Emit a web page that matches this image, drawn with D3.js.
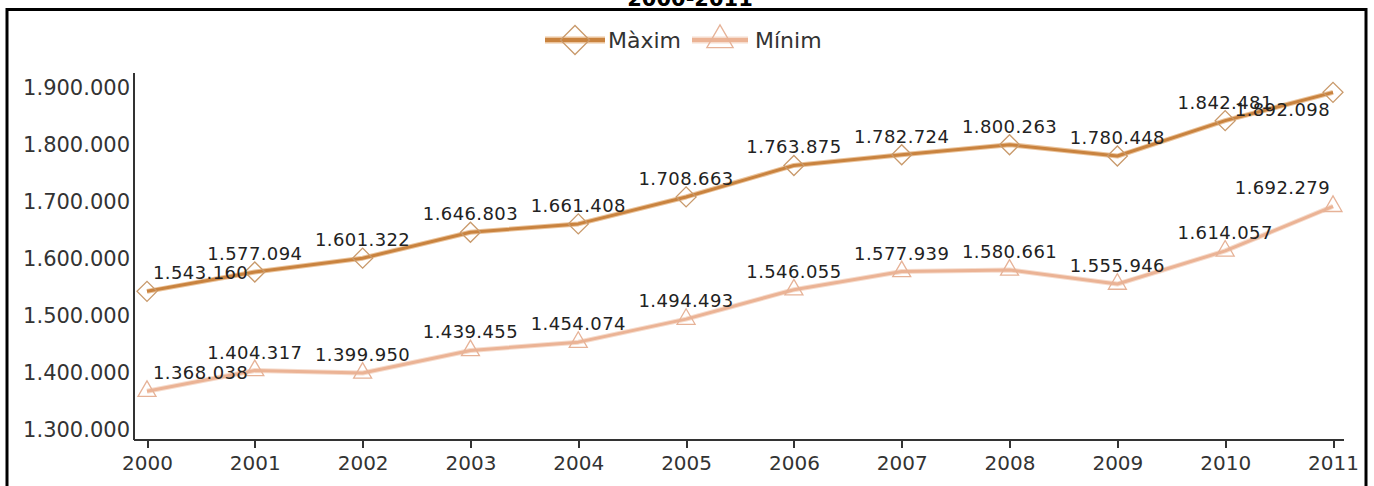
<!DOCTYPE html>
<html lang="ca">
<head>
<meta charset="UTF-8">
<title>2000-2011</title>
<style>
    body{ margin:0; background:#fff; }
    .axis path,.axis line{ fill:none; stroke:#333; stroke-width:2; shape-rendering:crispEdges; }
    .axis text{ font-family:"DejaVu Sans",sans-serif; font-size:21px; fill:#333; }
    .valor{ font-family:"DejaVu Sans",sans-serif; font-size:18px; fill:#222; letter-spacing:0.4px; }
    .llegenda{ font-family:"DejaVu Sans",sans-serif; font-size:22px; fill:#333; }
</style>
<script src="https://cdn.jsdelivr.net/npm/d3@7"></script>
</head>
<body>
<script>
    // dades
    var anys = [2000,2001,2002,2003,2004,2005,2006,2007,2008,2009,2010,2011];
    var maxim = [1543160,1577094,1601322,1646803,1661408,1708663,1763875,1782724,1800263,1780448,1842481,1892098];
    var minim = [1368038,1404317,1399950,1439455,1454074,1494493,1546055,1577939,1580661,1555946,1614057,1692279];
    var yTicks = [1300000,1400000,1500000,1600000,1700000,1800000,1900000];
    var series = [
        {nom:"Màxim", valors:maxim, color:"#c9833f", halo:"#ebc49c", marca:"#c99a6c", simbol:"diamant"},
        {nom:"Mínim", valors:minim, color:"#ebb395", halo:"#f6dccd", marca:"#e6b297", simbol:"triangle"}
    ];

    var width = 1374, height = 486;
    var plot = {left:134, right:1344, top:73, bottom:440};

    var svg = d3.select("body").append("svg")
            .attr("width",width)
            .attr("height",height);

    // marc
    svg.append("rect")
            .attr("x",7).attr("y",9.5)
            .attr("width",1359).attr("height",500)
            .attr("fill","none").attr("stroke","#000").attr("stroke-width",3);

    // titol (tallat per dalt)
    svg.append("text")
            .attr("x",690).attr("y",6)
            .attr("text-anchor","middle")
            .attr("font-family","DejaVu Sans, sans-serif")
            .attr("font-weight","bold")
            .attr("font-size",21)
            .text("2000-2011");

    var ca = d3.formatLocale({decimal:",", thousands:".", grouping:[3], currency:["","€"]});
    var fmt = ca.format(",d");

    var xScale = d3.scaleLinear()
            .domain([2000,2011])
            .range([147,1333]);

    var yScale = d3.scaleLinear()
            .domain([1282500,1926000])
            .range([plot.bottom,plot.top]);

    // eixos
    var yAxis = d3.axisLeft(yScale)
            .tickValues(yTicks)
            .tickSize(0)
            .tickPadding(4)
            .tickFormat(fmt);

    svg.append("g")
            .attr("class","axis")
            .attr("transform","translate("+plot.left+",0)")
            .call(yAxis)
            .select(".domain").remove();

    svg.append("line")
            .attr("x1",plot.left).attr("x2",plot.left)
            .attr("y1",plot.top).attr("y2",plot.bottom)
            .attr("stroke","#333").attr("stroke-width",2);

    var xAxis = d3.axisBottom(xScale)
            .tickValues(anys)
            .tickSize(8)
            .tickPadding(8)
            .tickFormat(d3.format("d"));

    var gx = svg.append("g")
            .attr("class","axis")
            .attr("transform","translate(0,"+plot.bottom+")")
            .call(xAxis);
    gx.select(".domain").remove();
    gx.selectAll("text").style("font-size","20px");

    svg.append("line")
            .attr("x1",plot.left).attr("x2",plot.right)
            .attr("y1",plot.bottom).attr("y2",plot.bottom)
            .attr("stroke","#333").attr("stroke-width",2);

    // simbols
    var diamant = d3.symbol().type(d3.symbolSquare).size(200);
    var triangle = d3.symbol().type(d3.symbolTriangle).size(140);

    var line = d3.line()
            .x(function(d,i){ return xScale(anys[i]); })
            .y(function(d){ return yScale(d); });

    series.forEach(function(s){
        var g = svg.append("g");
        g.append("path")
                .attr("d",line(s.valors))
                .attr("fill","none")
                .attr("stroke",s.halo)
                .attr("stroke-width",5)
                .attr("stroke-linejoin","round");
        g.append("path")
                .attr("d",line(s.valors))
                .attr("fill","none")
                .attr("stroke",s.color)
                .attr("stroke-width",3)
                .attr("stroke-linejoin","round");

        g.selectAll(".marca")
                .data(s.valors)
                .enter()
                .append("path")
                .attr("class","marca")
                .attr("d", s.simbol === "diamant" ? diamant() : triangle())
                .attr("transform",function(d,i){
                    var t = "translate("+xScale(anys[i])+","+yScale(d)+")";
                    return s.simbol === "diamant" ? t+" rotate(45)" : t;
                })
                .attr("fill","none")
                .attr("stroke",s.marca)
                .attr("stroke-width",1.3);
    });

    // etiquetes de valor
    series.forEach(function(s){
        svg.selectAll(null)
                .data(s.valors)
                .enter()
                .append("text")
                .attr("class","valor")
                .each(function(d,i){
                    var px = xScale(anys[i]), py = yScale(d);
                    var t = d3.select(this).text(fmt(d));
                    var w = this.getComputedTextLength();
                    var x = px - w/2, y = py - 12;
                    if (x < plot.left + 6) x = px + 6;
                    if (x + w > plot.right - 10) x = px - w - 3;
                    if (y - 14 < plot.top) y = py + 24;
                    t.attr("x",x).attr("y",y);
                });
    });

    // llegenda
    var lleg = [
        {s:series[0], x1:545, x2:605, tx:608},
        {s:series[1], x1:692, x2:748, tx:755}
    ];
    lleg.forEach(function(l){
        var cx = (l.x1+l.x2)/2;
        svg.append("line")
                .attr("x1",l.x1).attr("x2",l.x2)
                .attr("y1",40).attr("y2",40)
                .attr("stroke",l.s.halo).attr("stroke-width",7);
        svg.append("line")
                .attr("x1",l.x1).attr("x2",l.x2)
                .attr("y1",40).attr("y2",40)
                .attr("stroke",l.s.color).attr("stroke-width",4);
        var sym = l.s.simbol === "diamant"
                ? d3.symbol().type(d3.symbolSquare).size(420)()
                : d3.symbol().type(d3.symbolTriangle).size(300)();
        svg.append("path")
                .attr("d",sym)
                .attr("transform","translate("+cx+",40)"+(l.s.simbol === "diamant" ? " rotate(45)" : ""))
                .attr("fill","none")
                .attr("stroke",l.s.marca)
                .attr("stroke-width",1.3);
        svg.append("text")
                .attr("class","llegenda")
                .attr("x",l.tx).attr("y",40)
                .attr("dy","0.35em")
                .text(l.s.nom);
    });
</script>
</body>
</html>
